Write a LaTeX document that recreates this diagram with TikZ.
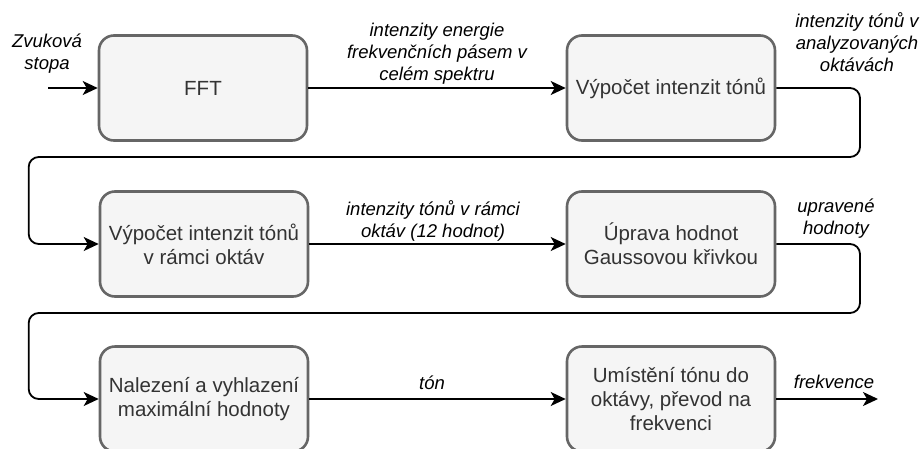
\documentclass[tikz,border=0pt]{standalone}
\usepackage{fontspec}
\setmainfont{Liberation Sans}
\usepackage{tikz}
\usetikzlibrary{
  arrows.meta,
  positioning
}
\tikzset{>={Stealth[length=15pt,width=14pt,inset=4pt]}}
\tikzset{
  block/.style={draw=black!60,fill=black!4,line width=2.6pt,rounded corners=15pt,
    minimum width=208pt,minimum height=105pt,align=center,text=black!80,
    font=\fontsize{20.5}{24}\selectfont},
  lbl/.style={align=center,inner sep=0pt,font=\fontsize{18.5}{22}\selectfont\itshape},
  flow/.style={->,line width=1.8pt}
}

\begin{document}
\begin{tikzpicture}[x=1pt,y=-1pt]
\useasboundingbox (0,0) rectangle (922,448);
% blocks
\node[block] (fft) at (203,88) {FFT};
\node[block] (vyp) at (671,88) {Výpočet intenzit tónů};
\node[block] (okt) at (204,244) {Výpočet intenzit tónů\\v rámci oktáv};
\node[block] (gau) at (671,244) {Úprava hodnot\\Gaussovou křivkou};
\node[block] (max) at (204,399) {Nalezení a vyhlazení\\maximální hodnoty};
\node[block] (frq) at (671,399) {Umístění tónu do\\oktávy, převod na\\frekvenci};
% free ends
\coordinate (inp) at (48,88);
\coordinate (out) at (878,399);
% connectors
\draw[flow] (inp) -- (fft.west);
\draw[flow] (fft.east) -- (vyp.west);
\draw[flow,rounded corners=10pt] (vyp.east) -| (860,157) -| ([xshift=-70pt]okt.west) -- (okt.west);
\draw[flow] (okt.east) -- (gau.west);
\draw[flow,rounded corners=10pt] (gau.east) -| (860,313) -| ([xshift=-70pt]max.west) -- (max.west);
\draw[flow] (max.east) -- (frq.west);
\draw[flow] (frq.east) -- (out);
% labels
\node[lbl] (lin) at (47,54) {Zvuková\\stopa};
\node[lbl] (l1) at (437,54) {intenzity energie\\frekvenčních pásem v\\celém spektru};
\node[lbl] (l2) at (857,42) {intenzity tónů v\\analyzovaných\\oktávách};
\node[lbl] (l3) at (433,221) {intenzity tónů v rámci\\oktáv (12 hodnot)};
\node[lbl] (l4) at (836,219) {upravené\\hodnoty};
\node[lbl] (l5) at (432,383) {tón};
\node[lbl] (lout) at (834,382) {frekvence};
\end{tikzpicture}
\end{document}
